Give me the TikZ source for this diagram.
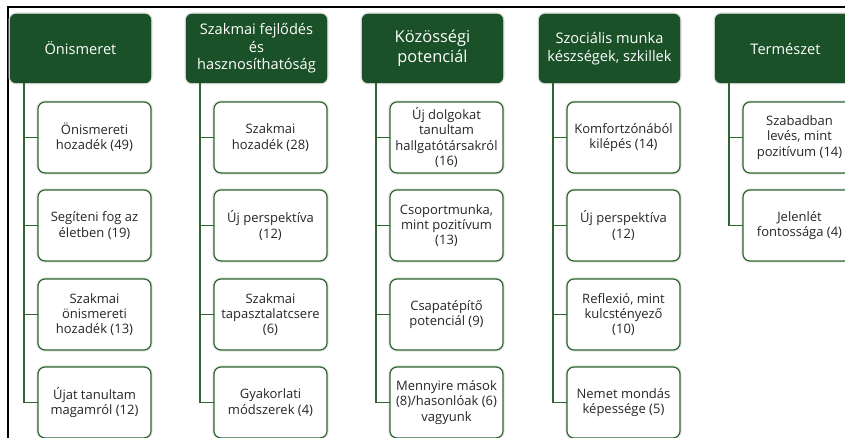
\documentclass[tikz,border=0pt]{standalone}
\usepackage{fontspec}
\setmainfont{Open Sans}
\definecolor{hdrgreen}{HTML}{1B5128}
\definecolor{lngreen}{HTML}{2E6630}
\begin{document}
\begin{tikzpicture}[x=1pt,y=-1pt,
  hdr/.style={draw=hdrgreen, fill=hdrgreen, rounded corners=6pt, minimum width=141pt, minimum height=69pt,
    inner sep=2pt, outer sep=0pt, anchor=north west, text=white, align=center,
    font=\fontsize{14.6}{17.5}\selectfont, preaction={draw=black!12, line width=3pt}},
  bighdr/.style={hdr, font=\fontsize{16.4}{20}\selectfont},
  item/.style={draw=lngreen, line width=1.2pt, fill=white, rounded corners=7pt, minimum width=113pt,
    minimum height=71pt, inner sep=2pt, outer sep=0pt, anchor=north west, align=center,
    text=black!85, font=\fontsize{13}{15.3}\selectfont, preaction={draw=black!10, line width=3.4pt}},
  conn/.style={draw=lngreen, line width=1.3pt}]
\clip (0,0) rectangle (845,438);
\fill[white] (0,0) rectangle (845,438);
\draw[black, line width=1.1pt] (8,440) -- (8,7) -- (847,7);
% headers
\node[hdr] (h1) at (10,14) {Önismeret};
\node[hdr] (h2) at (186,14) {Szakmai fejlődés\\és\\hasznosíthatóság};
\node[bighdr] (h3) at (362,14) {Közösségi\\potenciál};
\node[hdr] (h4) at (539,14) {Szociális munka\\készségek, szkillek};
\node[hdr] (h5) at (715,14) {Természet};
% column 1
\node[item] (c11) at (38,102) {Önismereti\\hozadék (49)};
\node[item] (c12) at (38,190) {Segíteni fog az\\életben (19)};
\node[item] (c13) at (38,279) {Szakmai\\önismereti\\hozadék (13)};
\node[item] (c14) at (38,367) {Újat tanultam\\magamról (12)};
% column 2
\node[item] (c21) at (214,102) {Szakmai\\hozadék (28)};
\node[item] (c22) at (214,190) {Új perspektíva\\(12)};
\node[item] (c23) at (214,279) {Szakmai\\tapasztalatcsere\\(6)};
\node[item] (c24) at (214,367) {Gyakorlati\\módszerek (4)};
% column 3
\node[item] (c31) at (390,102) {Új dolgokat\\tanultam\\hallgatótársakról\\(16)};
\node[item] (c32) at (390,190) {Csoportmunka,\\mint pozitívum\\(13)};
\node[item] (c33) at (390,279) {Csapatépítő\\potenciál (9)};
\node[item] (c34) at (390,367) {Mennyire mások\\(8)/hasonlóak (6)\\vagyunk};
% column 4
\node[item] (c41) at (567,102) {Komfortzónából\\kilépés (14)};
\node[item] (c42) at (567,190) {Új perspektíva\\(12)};
\node[item] (c43) at (567,279) {Reflexió, mint\\kulcstényező\\(10)};
\node[item] (c44) at (567,367) {Nemet mondás\\képessége (5)};
% column 5
\node[item] (c51) at (743,102) {Szabadban\\levés, mint\\pozitívum (14)};
\node[item] (c52) at (743,190) {Jelenlét\\fontossága (4)};
% connectors
\foreach \h/\c in {h1/c11,h1/c12,h1/c13,h1/c14,h2/c21,h2/c22,h2/c23,h2/c24,h3/c31,h3/c32,h3/c33,h3/c34,h4/c41,h4/c42,h4/c43,h4/c44,h5/c51,h5/c52}
  \draw[conn] ([xshift=14pt]\h.south west) |- (\c.west);
\end{tikzpicture}
\end{document}
